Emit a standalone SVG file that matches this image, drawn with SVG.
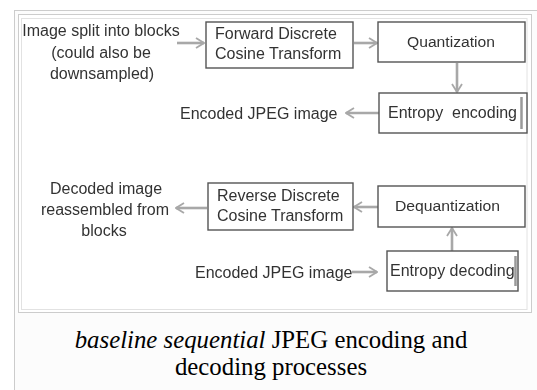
<svg xmlns="http://www.w3.org/2000/svg" width="537" height="390" viewBox="0 0 537 390">
  <style>
    .box { fill: #ffffff; stroke: #555555; stroke-width: 1.4; }
    .lbl { font-family: "Liberation Sans", Arial, sans-serif; font-size: 16px; fill: #333333; }
    .mid { text-anchor: middle; }
    .tight { font-size: 15.5px; }
    .wire { fill: none; stroke: #a8a8a8; stroke-width: 2.6; marker-end: url(#chev); }
    .cap { font-family: "Liberation Serif", "Times New Roman", serif; font-size: 24.8px; fill: #000000; text-anchor: middle; }
  </style>
  <defs>
    <marker id="chev" viewBox="0 0 10 12" refX="9" refY="6" markerWidth="10" markerHeight="12" markerUnits="userSpaceOnUse" orient="auto">
      <path d="M1,1 L9,6 L1,11" fill="none" stroke="#a8a8a8" stroke-width="1.8"/>
    </marker>
    <filter id="soft" x="-5%" y="-5%" width="110%" height="110%">
      <feGaussianBlur stdDeviation="0.45"/>
    </filter>
  </defs>

  <!-- thumbnail frame -->
  <rect x="14.5" y="10.5" width="530" height="390" fill="#fcfcfc" stroke="#cccccc" stroke-width="1"/>
  <rect x="18.5" y="14.5" width="513" height="298" fill="#ffffff" stroke="#cccccc" stroke-width="1"/>
  <rect x="21.5" y="18.5" width="505.5" height="291" fill="none" stroke="#e2e2e2" stroke-width="1"/>

  <g filter="url(#soft)">
    <g id="connectors">
      <line class="wire" x1="177" y1="43" x2="204" y2="43"/>
      <line class="wire" x1="354" y1="43" x2="377" y2="43"/>
      <line class="wire" x1="457" y1="63" x2="457" y2="92"/>
      <line class="wire" x1="379" y1="113" x2="346" y2="113"/>
      <line class="wire" x1="452" y1="251" x2="452" y2="228"/>
      <line class="wire" x1="378" y1="207" x2="354" y2="207"/>
      <line class="wire" x1="207" y1="208" x2="176" y2="208"/>
      <line class="wire" x1="352" y1="272" x2="377" y2="272"/>
    </g>

    <g id="source">
      <text class="lbl mid" x="101" y="36">Image split into blocks</text>
      <text class="lbl mid" x="101" y="58">(could also be</text>
      <text class="lbl mid" x="102" y="79">downsampled)</text>
    </g>

    <g id="fdct">
      <rect class="box" x="206" y="22" width="147" height="46"/>
      <text class="lbl" x="215" y="39">Forward Discrete</text>
      <text class="lbl" x="215" y="59">Cosine Transform</text>
    </g>

    <g id="quantization">
      <rect class="box" x="378" y="22" width="147" height="40"/>
      <text class="lbl tight" x="407" y="47" textLength="88" lengthAdjust="spacingAndGlyphs">Quantization</text>
    </g>

    <g id="entropy-encoding">
      <rect class="box" x="379" y="93" width="148" height="40"/>
      <text class="lbl" x="388" y="118" xml:space="preserve">Entropy  encoding</text>
      <line x1="521.5" y1="97" x2="521.5" y2="129" stroke="#9a9a9a" stroke-width="2.5"/>
    </g>

    <g id="encoded-out">
      <text class="lbl" x="180" y="119">Encoded JPEG image</text>
    </g>

    <g id="encoded-in">
      <text class="lbl" x="195" y="278">Encoded JPEG image</text>
    </g>

    <g id="entropy-decoding">
      <rect class="box" x="387" y="251" width="131" height="40"/>
      <text class="lbl" x="390" y="276">Entropy decoding</text>
      <line x1="515.5" y1="256" x2="515.5" y2="286" stroke="#9a9a9a" stroke-width="2.5"/>
    </g>

    <g id="dequantization">
      <rect class="box" x="378" y="186" width="147" height="41"/>
      <text class="lbl tight" x="395" y="211" textLength="105" lengthAdjust="spacingAndGlyphs">Dequantization</text>
    </g>

    <g id="rdct">
      <rect class="box" x="208" y="183" width="145" height="47"/>
      <text class="lbl" x="217" y="201">Reverse Discrete</text>
      <text class="lbl" x="217" y="221">Cosine Transform</text>
    </g>

    <g id="decoded">
      <text class="lbl mid" x="106" y="194">Decoded image</text>
      <text class="lbl mid" x="105" y="215">reassembled from</text>
      <text class="lbl mid" x="104" y="236">blocks</text>
    </g>
  </g>

  <g id="caption">
    <text class="cap" x="271" y="348"><tspan font-style="italic">baseline sequential</tspan> JPEG encoding and</text>
    <text class="cap" x="271" y="375">decoding processes</text>
  </g>
</svg>
